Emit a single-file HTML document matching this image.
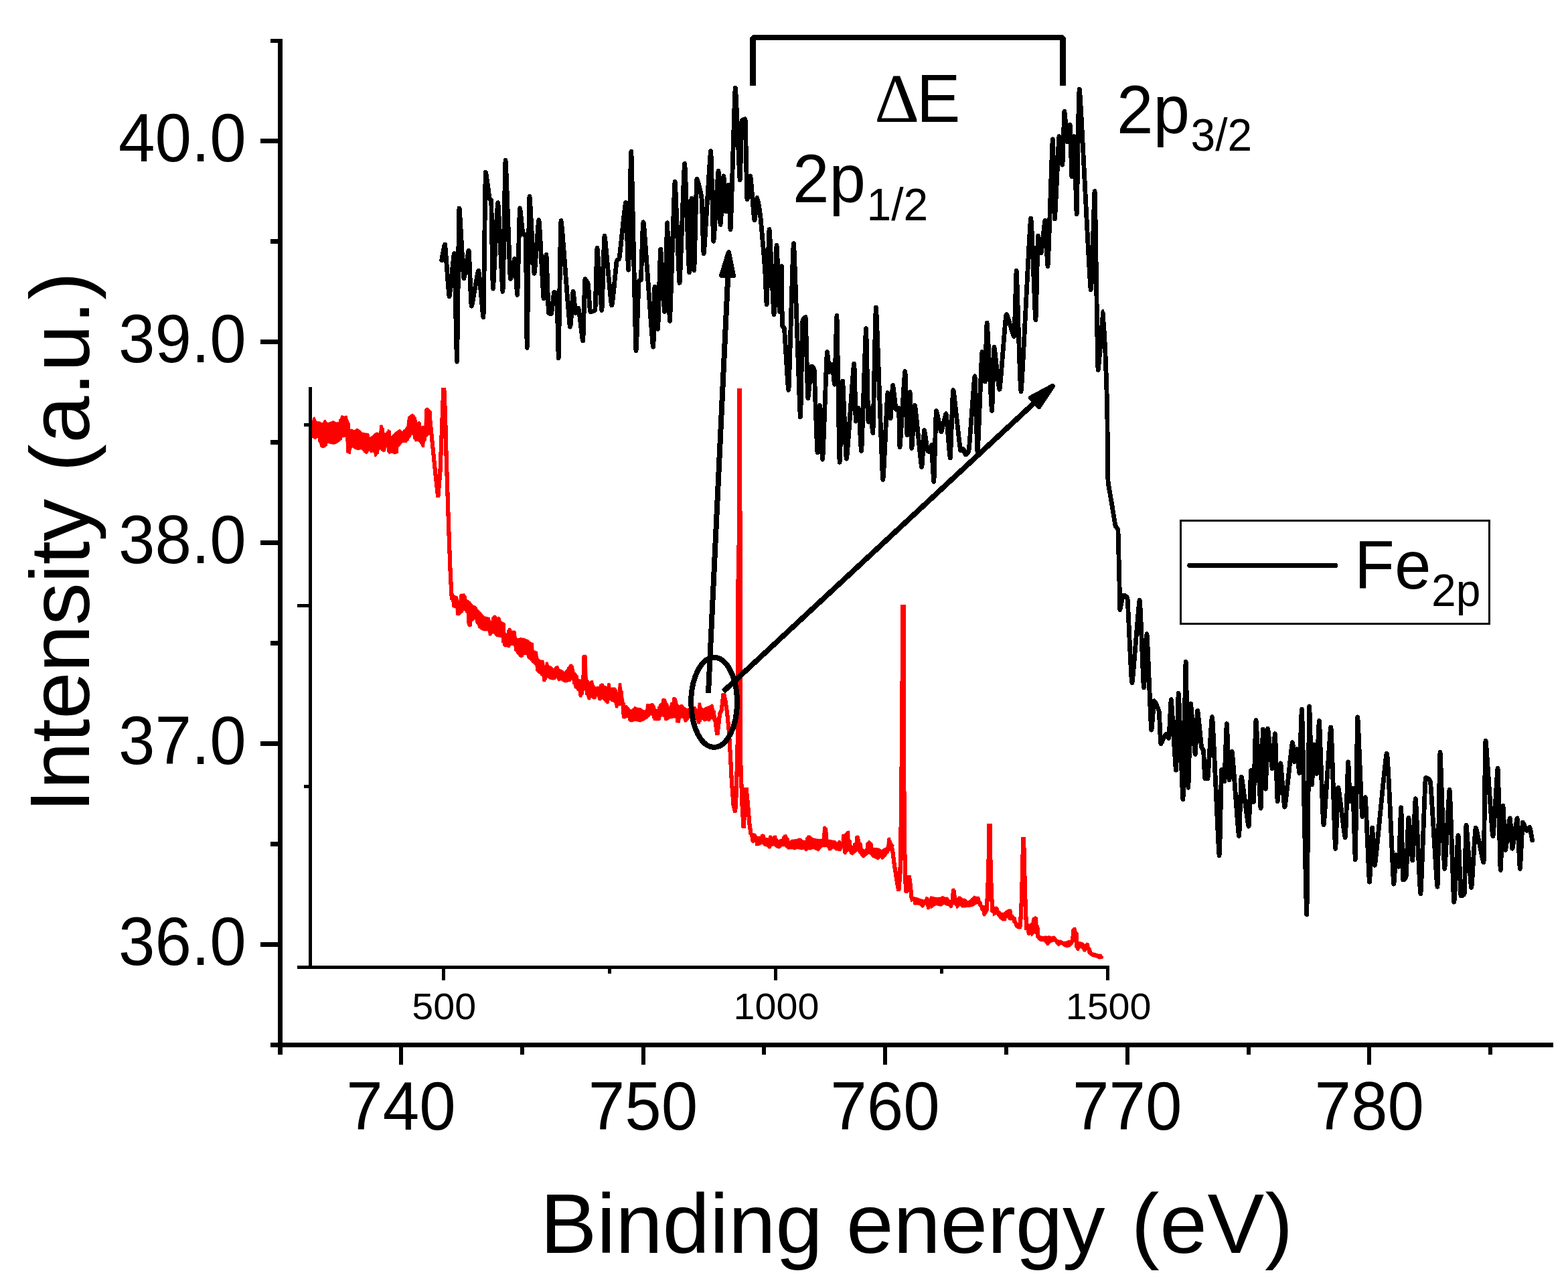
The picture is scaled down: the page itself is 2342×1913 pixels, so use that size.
<!DOCTYPE html>
<html lang="en"><head><meta charset="utf-8"><title>Fe 2p XPS spectrum</title>
<style>
html,body{margin:0;padding:0;background:#fff;}
body{width:2342px;height:1913px;overflow:hidden;}
svg{display:block;}
text{font-family:"Liberation Sans",sans-serif;fill:#000;}
.ax{stroke:#000;stroke-width:7;fill:none;stroke-linecap:butt;}
.iax{stroke:#000;stroke-width:5;fill:none;stroke-linecap:butt;}
.tl{font-size:98px;}
.itl{font-size:57.5px;}
.lab{font-size:127px;}
</style></head><body>
<svg width="2342" height="1913" viewBox="0 0 2342 1913" shape-rendering="crispEdges" role="img" aria-label="XPS Fe 2p spectrum with survey inset">
<rect width="2342" height="1913" fill="#fff"/>
<path id="redband" d="M466.0 628.4 L466.0 628.4 L469.7 622.2 L472.8 629.5 L478.0 629.5 L481.1 632.6 L485.3 626.8 L489.4 631.5 L492.5 630.5 L497.7 628.4 L501.8 630.5 L506.0 630.5 L510.1 620.1 L514.3 621.8 L517.4 620.6 L520.5 628.4 L521.5 641.9 L525.7 640.5 L528.8 643.0 L533.0 639.8 L537.1 641.9 L541.2 646.1 L549.5 647.1 L551.6 653.3 L555.8 651.2 L559.9 647.1 L563.0 645.4 L566.1 647.1 L568.2 634.7 L571.3 634.7 L573.4 646.1 L577.5 647.1 L579.6 640.9 L582.7 643.0 L583.8 652.3 L591.0 645.0 L597.2 640.9 L600.4 645.0 L603.5 640.9 L606.6 643.0 L609.7 622.2 L615.9 617.7 L620.1 621.2 L622.1 631.5 L626.3 628.9 L629.4 636.7 L633.5 635.7 L635.6 609.8 L638.7 608.7 L642.9 612.9 L642.9 612.9 L642.9 647.1 L642.9 647.1 L638.7 651.2 L635.6 654.4 L633.5 667.8 L630.4 667.8 L627.3 660.6 L623.2 658.5 L620.1 659.5 L615.9 648.1 L611.8 654.4 L607.6 660.6 L601.4 660.6 L595.2 667.8 L593.1 677.2 L588.9 678.2 L584.8 676.1 L580.7 678.2 L577.5 665.8 L575.5 674.1 L572.4 675.1 L567.2 670.9 L564.1 678.2 L560.9 682.4 L557.8 675.1 L553.7 676.1 L551.6 673.0 L547.5 678.2 L544.4 676.1 L540.2 670.9 L535.0 672.0 L530.9 670.9 L525.7 667.8 L522.6 678.2 L518.4 676.1 L516.4 652.3 L511.2 653.3 L509.1 657.5 L503.9 661.6 L498.7 663.7 L493.6 662.7 L489.4 661.6 L486.3 667.8 L482.1 668.9 L479.0 667.8 L474.9 653.3 L470.7 655.8 L466.0 653.3 L466.0 653.3Z M675.6 888.4 L675.6 888.4 L678.1 888.4 L683.3 891.0 L685.9 898.8 L686.8 887.5 L693.7 886.3 L697.2 895.3 L701.5 897.9 L706.7 903.9 L710.1 904.8 L713.6 910.0 L718.8 915.2 L723.1 920.4 L730.8 922.1 L733.4 928.1 L736.9 919.5 L739.5 918.6 L742.1 922.1 L745.5 920.9 L749.0 928.1 L753.3 929.9 L754.2 943.7 L757.6 947.1 L759.4 938.5 L762.0 937.6 L764.5 942.0 L768.9 941.6 L772.3 954.0 L777.5 952.3 L782.7 953.2 L789.6 955.8 L792.2 959.2 L796.5 960.1 L797.4 971.3 L802.6 973.1 L804.3 985.2 L812.1 986.0 L813.8 995.5 L815.5 988.6 L818.1 988.6 L819.8 993.8 L824.2 995.5 L826.8 999.0 L830.2 994.7 L833.7 994.3 L835.4 999.0 L839.7 1000.7 L843.2 1003.3 L847.5 998.1 L850.9 992.1 L854.4 991.7 L857.0 997.2 L858.7 1005.0 L861.3 1005.9 L863.0 1012.8 L865.6 1014.5 L870.0 1014.5 L871.2 978.2 L875.7 978.2 L877.7 1014.5 L879.5 1020.6 L882.0 1016.6 L885.5 1016.3 L888.1 1025.8 L895.0 1025.2 L897.6 1020.6 L900.2 1020.6 L901.9 1023.2 L904.5 1024.6 L907.1 1025.8 L907.5 1020.6 L910.6 1020.2 L912.3 1026.6 L919.2 1026.6 L920.9 1033.5 L923.0 1033.5 L923.9 1020.6 L927.8 1020.2 L929.6 1035.3 L931.3 1042.2 L933.0 1053.4 L936.5 1053.4 L939.9 1057.7 L940.0 1058.5 L943.5 1060.2 L947.8 1055.0 L952.1 1056.8 L957.3 1057.6 L960.7 1060.2 L964.2 1061.1 L965.6 1051.1 L971.1 1051.6 L972.8 1050.2 L976.3 1050.7 L978.9 1057.6 L982.3 1060.2 L984.6 1051.6 L987.5 1049.9 L990.1 1042.9 L994.4 1043.8 L997.0 1051.6 L999.6 1055.9 L1002.2 1049.0 L1004.8 1048.1 L1006.0 1041.2 L1009.1 1041.6 L1011.7 1048.1 L1014.3 1058.5 L1016.0 1052.4 L1019.5 1052.4 L1022.1 1055.9 L1026.4 1058.5 L1029.9 1056.8 L1038.5 1055.0 L1042.0 1060.2 L1042.8 1049.5 L1046.8 1049.5 L1048.5 1059.4 L1052.3 1056.8 L1057.5 1054.7 L1061.0 1053.3 L1063.6 1051.2 L1066.1 1056.8 L1068.7 1067.1 L1068.7 1067.1 L1068.7 1084.4 L1068.7 1084.4 L1067.0 1081.0 L1064.4 1072.3 L1059.2 1077.5 L1055.8 1076.1 L1051.5 1077.5 L1048.0 1073.2 L1045.4 1081.0 L1042.0 1081.0 L1039.4 1074.0 L1029.0 1072.3 L1025.5 1078.4 L1022.1 1078.4 L1020.4 1072.3 L1016.9 1072.3 L1015.2 1079.6 L1010.5 1079.2 L1009.1 1072.3 L1005.7 1072.3 L1000.5 1073.2 L996.2 1076.1 L992.7 1075.8 L991.8 1070.6 L987.5 1069.7 L985.8 1075.8 L981.5 1076.1 L976.3 1075.8 L974.6 1068.9 L972.0 1068.0 L967.6 1072.3 L962.5 1075.8 L956.4 1078.4 L953.0 1077.5 L948.6 1076.6 L943.5 1078.4 L940.0 1077.5 L939.9 1072.4 L936.5 1071.6 L933.0 1073.3 L929.6 1072.4 L927.8 1053.4 L923.5 1054.3 L922.7 1057.4 L919.2 1056.9 L917.5 1047.4 L914.0 1048.2 L909.7 1044.8 L908.5 1050.8 L906.2 1051.2 L903.6 1047.4 L899.3 1043.9 L896.7 1046.5 L894.1 1045.6 L891.6 1038.7 L889.0 1043.9 L886.4 1044.3 L882.9 1041.3 L881.2 1045.3 L878.1 1044.8 L875.1 1035.3 L873.4 1030.1 L870.5 1034.4 L869.1 1041.3 L866.5 1041.3 L863.9 1032.7 L861.3 1029.2 L857.9 1027.5 L856.1 1018.0 L853.5 1015.4 L851.8 1018.0 L849.2 1018.0 L846.6 1018.8 L843.2 1019.2 L838.0 1015.9 L834.5 1017.1 L831.1 1011.9 L829.3 1014.9 L825.9 1015.4 L820.7 1014.2 L816.4 1011.1 L814.7 1018.0 L811.2 1018.0 L810.3 1011.1 L806.9 1006.8 L802.6 1004.2 L799.1 992.9 L795.6 990.3 L792.2 986.0 L788.7 983.4 L786.1 977.4 L781.8 978.2 L780.1 981.7 L777.5 982.0 L773.2 977.4 L769.7 972.2 L767.1 963.6 L762.8 963.6 L760.2 967.5 L757.6 966.1 L754.2 966.1 L751.6 964.4 L749.9 952.3 L746.4 951.5 L741.2 950.6 L736.0 944.5 L733.4 949.7 L730.0 948.9 L729.1 942.0 L723.9 942.3 L719.6 941.1 L715.3 937.6 L711.8 930.7 L709.2 924.7 L704.9 928.1 L703.2 935.9 L699.7 935.9 L698.9 926.4 L697.2 916.9 L694.6 910.0 L690.2 915.2 L685.9 919.1 L681.6 918.6 L680.7 908.3 L677.3 907.4 L675.6 906.5 L675.6 906.5Z M1122.0 1244.2 L1122.0 1244.2 L1128.0 1244.7 L1131.5 1249.4 L1135.8 1248.8 L1138.4 1245.4 L1141.0 1245.9 L1143.6 1251.1 L1147.9 1251.6 L1148.8 1247.6 L1152.2 1247.6 L1153.1 1250.2 L1156.5 1247.6 L1160.0 1248.0 L1160.8 1255.4 L1164.3 1253.7 L1169.5 1252.0 L1170.4 1246.8 L1174.7 1246.4 L1176.4 1250.2 L1179.0 1256.3 L1183.3 1253.7 L1192.0 1253.3 L1192.8 1251.6 L1196.3 1252.0 L1198.9 1254.5 L1203.2 1255.4 L1206.1 1247.6 L1210.1 1247.6 L1212.7 1250.6 L1216.1 1252.0 L1221.3 1252.8 L1223.9 1253.3 L1228.2 1252.8 L1229.6 1234.7 L1232.6 1233.5 L1236.0 1238.1 L1236.9 1253.7 L1242.1 1254.5 L1247.2 1255.4 L1250.7 1258.0 L1252.4 1255.1 L1255.0 1255.1 L1256.8 1258.0 L1257.6 1245.9 L1261.9 1245.6 L1264.5 1241.6 L1268.8 1240.7 L1269.7 1257.1 L1272.3 1262.3 L1274.9 1264.0 L1275.8 1258.9 L1278.4 1258.0 L1278.7 1248.2 L1282.2 1247.6 L1284.4 1257.1 L1287.0 1258.9 L1288.7 1267.5 L1293.0 1269.2 L1294.8 1258.0 L1298.2 1255.1 L1302.5 1258.9 L1303.9 1266.1 L1312.9 1266.6 L1316.4 1269.2 L1319.8 1267.5 L1324.1 1264.9 L1325.9 1252.0 L1329.3 1250.2 L1331.1 1257.1 L1333.6 1260.6 L1333.6 1260.6 L1333.6 1274.4 L1333.6 1274.4 L1330.2 1269.2 L1326.7 1273.6 L1323.3 1278.7 L1319.8 1282.2 L1317.2 1283.9 L1314.6 1278.7 L1312.0 1284.4 L1307.7 1282.2 L1303.4 1280.5 L1300.0 1276.1 L1297.4 1275.3 L1293.9 1277.9 L1291.3 1280.5 L1288.7 1281.3 L1286.1 1277.9 L1283.5 1274.4 L1280.9 1271.0 L1277.5 1273.6 L1273.2 1277.0 L1269.7 1275.3 L1268.0 1271.0 L1265.4 1271.0 L1263.7 1276.1 L1260.2 1275.3 L1258.5 1265.8 L1255.9 1271.0 L1249.0 1270.1 L1243.8 1266.6 L1241.2 1270.1 L1237.7 1270.1 L1235.2 1264.0 L1232.6 1264.9 L1228.2 1264.9 L1225.6 1267.5 L1222.2 1271.3 L1218.7 1269.2 L1214.4 1267.5 L1211.0 1269.2 L1207.5 1268.9 L1204.0 1271.3 L1200.6 1268.4 L1197.1 1268.9 L1190.2 1267.5 L1186.8 1269.2 L1183.3 1267.9 L1176.4 1268.4 L1172.9 1264.0 L1167.8 1264.0 L1164.3 1267.5 L1159.1 1265.8 L1156.5 1263.2 L1152.2 1263.7 L1151.3 1267.2 L1147.9 1267.2 L1145.3 1264.0 L1141.0 1263.2 L1138.4 1259.7 L1134.9 1262.3 L1129.7 1263.2 L1128.0 1257.1 L1124.6 1259.2 L1122.0 1257.1 L1122.0 1257.1Z M1364.8 1339.2 L1364.8 1339.2 L1371.7 1340.9 L1371.7 1341.6 L1375.2 1342.4 L1376.8 1342.7 L1380.4 1344.2 L1382.0 1341.8 L1382.1 1339.8 L1383.8 1339.2 L1385.6 1339.8 L1387.2 1340.9 L1387.3 1343.3 L1389.9 1338.6 L1390.0 1338.4 L1394.2 1339.3 L1399.4 1340.4 L1404.6 1339.8 L1408.0 1338.1 L1411.5 1339.8 L1415.8 1339.8 L1417.5 1344.2 L1420.5 1343.3 L1421.5 1327.7 L1425.3 1326.5 L1427.4 1332.1 L1428.8 1342.4 L1431.3 1338.6 L1434.8 1338.6 L1437.4 1342.4 L1440.8 1341.6 L1446.0 1345.9 L1450.4 1342.4 L1454.7 1337.6 L1458.1 1339.0 L1462.4 1339.0 L1464.7 1345.9 L1466.8 1351.1 L1470.2 1352.8 L1472.8 1351.1 L1472.8 1351.1 L1472.8 1365.3 L1472.0 1367.5 L1469.4 1368.4 L1466.8 1361.4 L1464.2 1356.3 L1461.6 1350.2 L1458.1 1350.2 L1454.7 1352.8 L1449.5 1354.5 L1444.3 1354.5 L1440.8 1355.4 L1436.5 1355.4 L1433.1 1351.9 L1430.5 1356.3 L1428.8 1357.1 L1427.0 1351.1 L1423.6 1351.1 L1421.8 1355.4 L1419.2 1356.3 L1417.5 1352.8 L1414.1 1352.5 L1409.7 1350.2 L1406.3 1353.7 L1402.8 1352.8 L1398.5 1351.9 L1395.1 1353.7 L1390.0 1357.4 L1389.9 1351.9 L1388.1 1358.0 L1385.6 1358.0 L1385.5 1358.2 L1383.8 1351.1 L1382.0 1351.3 L1381.2 1350.2 L1379.5 1354.5 L1377.7 1355.6 L1376.9 1355.4 L1375.1 1352.2 L1374.3 1351.9 L1371.7 1351.4 L1369.9 1351.3 L1364.8 1351.3 L1364.8 1351.3Z M1483.2 1354.5 L1483.2 1354.5 L1489.2 1353.7 L1491.8 1358.8 L1494.4 1362.3 L1498.7 1363.2 L1503.1 1359.7 L1506.5 1357.6 L1510.3 1357.6 L1512.0 1365.8 L1516.9 1370.1 L1518.6 1377.0 L1521.2 1378.7 L1524.1 1375.3 L1524.1 1375.3 L1524.1 1387.4 L1524.1 1387.4 L1521.2 1387.4 L1516.9 1384.8 L1514.3 1378.7 L1512.6 1374.4 L1508.2 1374.4 L1503.9 1370.1 L1502.2 1375.3 L1497.9 1375.3 L1492.7 1371.8 L1489.2 1365.2 L1485.8 1366.6 L1483.2 1368.4 L1483.2 1368.4Z M1534.2 1383.9 L1534.2 1383.9 L1535.9 1379.6 L1538.5 1379.6 L1540.2 1380.4 L1541.9 1370.9 L1546.3 1368.4 L1549.7 1370.1 L1551.1 1394.3 L1554.0 1397.7 L1559.2 1398.6 L1560.9 1397.4 L1564.4 1398.1 L1567.0 1397.4 L1570.4 1398.6 L1574.8 1397.7 L1578.2 1401.2 L1580.0 1403.8 L1585.1 1403.8 L1587.7 1406.4 L1592.9 1405.5 L1596.4 1404.3 L1599.8 1404.6 L1602.4 1385.6 L1606.7 1384.8 L1608.8 1392.5 L1610.2 1406.4 L1613.6 1406.4 L1618.0 1407.8 L1620.6 1411.6 L1622.6 1407.8 L1625.7 1408.4 L1628.3 1415.9 L1630.1 1421.9 L1634.4 1422.8 L1639.6 1424.5 L1644.8 1425.0 L1646.0 1428.0 L1646.0 1428.0 L1646.0 1431.4 L1646.0 1431.4 L1642.2 1432.3 L1636.1 1429.7 L1630.9 1428.5 L1626.6 1425.4 L1624.0 1417.6 L1621.4 1421.6 L1618.0 1421.1 L1616.2 1415.9 L1613.6 1415.9 L1610.2 1420.2 L1607.6 1418.5 L1605.0 1404.6 L1602.4 1409.8 L1598.1 1414.1 L1592.9 1415.0 L1588.6 1413.3 L1585.1 1409.8 L1581.7 1413.3 L1578.2 1410.7 L1576.5 1406.4 L1573.0 1406.4 L1568.7 1408.1 L1566.1 1411.6 L1563.5 1411.6 L1560.1 1406.4 L1556.6 1405.5 L1553.2 1405.5 L1548.8 1401.2 L1547.1 1394.3 L1543.7 1394.3 L1541.1 1398.6 L1539.3 1395.7 L1536.8 1396.9 L1534.2 1396.0 L1534.2 1396.0Z" fill="#ff0000" stroke="#ff0000" stroke-width="0.6" stroke-linejoin="round"/>
<path id="red" d="M466.0 630.4 L467.6 652.2 L469.2 625.1 L470.8 653.8 L472.4 630.5 L474.0 651.8 L475.6 631.5 L477.2 659.5 L478.8 632.3 L480.4 666.3 L482.1 633.3 L483.7 666.5 L485.3 628.8 L486.9 664.7 L488.5 632.5 L490.1 659.8 L491.7 632.8 L493.3 660.6 L494.9 631.5 L496.5 661.2 L498.1 630.7 L499.7 661.3 L501.3 632.3 L503.0 660.0 L504.6 632.5 L506.2 657.8 L507.8 628.0 L509.4 654.9 L511.0 622.5 L512.6 651.0 L514.2 623.8 L515.8 650.4 L517.4 622.6 L519.0 674.4 L520.6 632.2 L522.3 676.0 L523.9 643.1 L525.5 666.6 L527.1 643.6 L528.7 667.6 L530.3 643.8 L531.9 669.2 L533.5 642.1 L535.1 670.0 L536.7 643.7 L538.3 669.3 L539.9 646.8 L541.6 670.6 L543.2 648.3 L544.8 674.4 L546.4 648.7 L548.0 675.6 L549.6 649.2 L551.2 671.5 L552.8 654.7 L554.4 674.0 L556.0 653.0 L557.6 673.1 L559.2 649.8 L560.8 680.1 L562.5 647.7 L564.1 676.2 L565.7 648.9 L567.3 669.0 L568.9 636.7 L570.5 671.6 L572.1 641.0 L573.7 672.6 L575.3 648.5 L576.9 666.2 L578.5 646.1 L580.1 674.2 L581.8 644.3 L583.4 674.9 L585.0 653.1 L586.6 675.0 L588.2 649.9 L589.8 676.0 L591.4 646.8 L593.0 675.2 L594.6 644.6 L596.2 664.6 L597.8 643.7 L599.4 660.8 L601.1 646.1 L602.7 658.6 L604.3 643.4 L605.9 658.6 L607.5 638.9 L609.1 656.4 L610.7 623.5 L612.3 651.5 L613.9 621.1 L615.5 646.7 L617.1 620.7 L618.7 653.9 L620.4 624.7 L622.0 656.9 L623.6 632.6 L625.2 657.5 L626.8 632.1 L628.4 661.1 L630.0 638.6 L631.6 665.8 L633.2 637.8 L634.8 657.4 L636.4 611.5 L638.0 649.9 L639.6 611.7 L641.3 646.7 L642.9 614.9 M675.6 890.4 L677.2 905.3 L678.8 890.7 L680.4 906.2 L682.0 892.3 L683.6 916.9 L685.2 898.5 L686.8 916.3 L688.4 889.2 L690.0 913.4 L691.6 888.7 L693.2 909.6 L694.8 891.2 L696.4 912.9 L698.0 897.8 L699.6 932.6 L701.2 899.7 L702.8 933.9 L704.4 903.3 L706.0 925.2 L707.6 906.2 L709.3 922.7 L710.9 907.9 L712.5 930.0 L714.1 912.5 L715.7 935.9 L717.3 915.7 L718.9 938.5 L720.5 919.3 L722.1 939.8 L723.7 922.5 L725.3 940.2 L726.9 923.2 L728.5 940.0 L730.1 923.9 L731.7 947.3 L733.3 929.9 L734.9 944.7 L736.5 922.4 L738.1 945.0 L739.7 921.0 L741.4 948.6 L743.0 923.8 L744.6 949.1 L746.2 924.2 L747.8 949.8 L749.4 930.3 L751.0 958.2 L752.6 931.6 L754.2 964.1 L755.8 947.3 L757.4 964.1 L759.0 942.3 L760.6 964.9 L762.2 940.1 L763.8 961.6 L765.4 943.9 L767.0 961.6 L768.6 943.6 L770.2 971.0 L771.8 954.3 L773.4 975.7 L775.1 955.1 L776.7 979.1 L778.3 954.4 L779.9 979.7 L781.5 955.0 L783.1 976.0 L784.7 955.9 L786.3 975.7 L787.9 957.1 L789.5 982.0 L791.1 959.8 L792.7 984.7 L794.3 961.7 L795.9 988.5 L797.5 973.4 L799.1 991.0 L800.7 974.4 L802.3 1001.4 L803.9 984.7 L805.5 1004.0 L807.1 987.5 L808.8 1007.1 L810.4 987.8 L812.0 1016.0 L813.6 996.3 L815.2 1013.9 L816.8 990.6 L818.4 1010.5 L820.0 995.9 L821.6 1012.4 L823.2 997.1 L824.8 1013.1 L826.4 1000.5 L828.0 1013.1 L829.6 997.4 L831.2 1010.2 L832.8 996.4 L834.4 1015.0 L836.0 1001.2 L837.6 1014.0 L839.2 1002.5 L840.9 1015.7 L842.5 1004.8 L844.1 1017.1 L845.7 1002.3 L847.3 1016.6 L848.9 997.7 L850.5 1016.0 L852.1 994.0 L853.7 1013.5 L855.3 995.6 L856.9 1020.2 L858.5 1006.0 L860.1 1026.6 L861.7 1009.5 L863.3 1029.9 L864.9 1016.1 L866.5 1039.3 L868.1 1016.5 L869.7 1036.1 L871.3 980.2 L872.9 1028.8 L874.6 980.2 L876.2 1036.6 L877.8 1016.6 L879.4 1043.0 L881.0 1020.3 L882.6 1040.1 L884.2 1018.4 L885.8 1041.8 L887.4 1025.2 L889.0 1041.8 L890.6 1027.6 L892.2 1038.5 L893.8 1027.3 L895.4 1044.1 L897.0 1023.6 L898.6 1042.6 L900.2 1022.6 L901.8 1043.9 L903.4 1026.0 L905.0 1047.4 L906.6 1027.5 L908.3 1048.9 L909.9 1022.3 L911.5 1044.2 L913.1 1028.6 L914.7 1046.1 L916.3 1028.6 L917.9 1047.6 L919.5 1029.8 L921.1 1055.1 L922.7 1035.5 L924.3 1052.1 L925.9 1022.4 L927.5 1051.5 L929.1 1033.3 L930.7 1070.7 L932.3 1050.9 L933.9 1070.8 L935.5 1055.4 L937.1 1069.7 L938.7 1058.2 L940.3 1075.6 L942.0 1061.5 L943.6 1076.3 L945.2 1060.2 L946.8 1075.3 L948.4 1057.3 L950.0 1074.9 L951.6 1058.6 L953.2 1075.6 L954.8 1059.2 L956.4 1076.4 L958.0 1060.2 L959.6 1075.0 L961.2 1062.3 L962.8 1073.5 L964.4 1061.4 L966.0 1071.4 L967.6 1053.3 L969.2 1068.7 L970.8 1053.6 L972.4 1066.2 L974.1 1052.4 L975.7 1071.2 L977.3 1055.3 L978.9 1073.9 L980.5 1060.8 L982.1 1074.1 L983.7 1057.1 L985.3 1073.8 L986.9 1052.2 L988.5 1067.9 L990.1 1045.0 L991.7 1068.6 L993.3 1045.6 L994.9 1074.0 L996.5 1052.1 L998.1 1072.8 L999.7 1057.6 L1001.3 1071.0 L1002.9 1050.7 L1004.5 1070.5 L1006.1 1043.2 L1007.8 1070.3 L1009.4 1044.2 L1011.0 1077.3 L1012.6 1053.5 L1014.2 1077.5 L1015.8 1055.3 L1017.4 1070.3 L1019.0 1054.4 L1020.6 1071.2 L1022.2 1058.0 L1023.8 1076.4 L1025.4 1059.9 L1027.0 1073.8 L1028.6 1059.4 L1030.2 1070.5 L1031.8 1058.4 L1033.4 1071.1 L1035.0 1057.7 L1036.6 1071.6 L1038.2 1057.1 L1039.8 1073.4 L1041.5 1061.5 L1043.1 1079.0 L1044.7 1051.5 L1046.3 1076.4 L1047.9 1057.7 L1049.5 1073.0 L1051.1 1059.6 L1052.7 1075.1 L1054.3 1058.0 L1055.9 1074.2 L1057.5 1056.7 L1059.1 1075.5 L1060.7 1055.4 L1062.3 1072.4 L1063.9 1054.0 L1065.5 1074.0 L1067.1 1062.7 L1068.7 1082.4 M1122.0 1246.2 L1123.6 1256.4 L1125.2 1246.5 L1126.8 1255.9 L1128.4 1247.2 L1130.0 1261.1 L1131.6 1251.3 L1133.2 1260.6 L1134.8 1251.0 L1136.4 1259.2 L1138.0 1247.9 L1139.6 1259.4 L1141.2 1248.4 L1142.8 1261.6 L1144.4 1253.2 L1146.0 1262.9 L1147.6 1253.6 L1149.2 1265.2 L1150.8 1249.6 L1152.4 1261.7 L1154.0 1251.5 L1155.6 1261.3 L1157.2 1249.7 L1158.9 1263.5 L1160.5 1254.0 L1162.1 1264.8 L1163.7 1256.0 L1165.3 1264.5 L1166.9 1254.8 L1168.5 1262.0 L1170.1 1250.4 L1171.7 1262.0 L1173.3 1248.5 L1174.9 1264.5 L1176.5 1252.4 L1178.1 1266.2 L1179.7 1257.8 L1181.3 1266.0 L1182.9 1255.9 L1184.5 1266.3 L1186.1 1255.6 L1187.7 1266.8 L1189.3 1255.4 L1190.9 1265.6 L1192.5 1254.2 L1194.1 1266.3 L1195.7 1253.9 L1197.3 1266.9 L1198.9 1256.6 L1200.5 1266.4 L1202.2 1257.2 L1203.8 1269.1 L1205.4 1251.7 L1207.0 1267.3 L1208.6 1249.6 L1210.2 1267.2 L1211.8 1251.5 L1213.4 1266.0 L1215.0 1253.5 L1216.6 1266.4 L1218.2 1254.3 L1219.8 1267.9 L1221.4 1254.8 L1223.0 1268.4 L1224.6 1255.3 L1226.2 1264.9 L1227.8 1254.9 L1229.4 1262.9 L1231.0 1236.1 L1232.6 1262.9 L1234.2 1237.7 L1235.8 1263.6 L1237.4 1255.8 L1239.0 1268.1 L1240.6 1256.3 L1242.2 1266.7 L1243.8 1256.8 L1245.4 1265.7 L1247.1 1257.4 L1248.7 1267.9 L1250.3 1259.7 L1251.9 1268.5 L1253.5 1257.1 L1255.1 1268.9 L1256.7 1259.9 L1258.3 1264.2 L1259.9 1247.7 L1261.5 1273.6 L1263.1 1245.8 L1264.7 1271.1 L1266.3 1243.2 L1267.9 1269.0 L1269.5 1255.2 L1271.1 1274.0 L1272.7 1264.6 L1274.3 1274.1 L1275.9 1260.8 L1277.5 1271.5 L1279.1 1250.1 L1280.7 1269.1 L1282.3 1250.4 L1283.9 1272.9 L1285.5 1259.9 L1287.1 1277.2 L1288.7 1269.5 L1290.4 1278.8 L1292.0 1270.8 L1293.6 1276.2 L1295.2 1259.7 L1296.8 1273.7 L1298.4 1257.2 L1300.0 1274.2 L1301.6 1260.0 L1303.2 1278.2 L1304.8 1268.2 L1306.4 1279.7 L1308.0 1268.4 L1309.6 1281.2 L1311.2 1268.5 L1312.8 1280.8 L1314.4 1269.8 L1316.0 1279.5 L1317.6 1270.6 L1319.2 1280.6 L1320.8 1268.9 L1322.4 1277.6 L1324.0 1267.0 L1325.6 1273.2 L1327.2 1253.3 L1328.8 1268.9 L1330.4 1256.7 L1332.0 1270.0 L1333.6 1262.6 M1364.8 1341.2 L1366.4 1349.3 L1368.0 1342.0 L1369.6 1349.3 L1371.2 1342.8 L1372.8 1349.6 L1374.4 1344.2 L1376.0 1351.8 L1377.7 1345.0 L1379.3 1352.7 L1380.9 1345.4 L1382.5 1349.3 L1384.1 1341.3 L1385.7 1356.0 L1387.3 1345.2 L1388.9 1353.2 L1390.6 1340.5 L1392.2 1353.8 L1393.8 1341.2 L1395.4 1351.5 L1397.0 1341.9 L1398.6 1350.0 L1400.2 1342.3 L1401.8 1350.6 L1403.5 1342.0 L1405.1 1351.4 L1406.7 1340.8 L1408.3 1349.7 L1409.9 1341.1 L1411.5 1349.1 L1413.1 1341.8 L1414.8 1350.5 L1416.4 1343.3 L1418.0 1351.7 L1419.6 1345.6 L1421.2 1353.6 L1422.8 1329.3 L1424.4 1349.1 L1426.0 1330.5 L1427.7 1351.3 L1429.3 1343.7 L1430.9 1353.6 L1432.5 1340.6 L1434.1 1351.0 L1435.7 1342.0 L1437.3 1353.4 L1438.9 1344.0 L1440.6 1353.4 L1442.2 1344.7 L1443.8 1352.7 L1445.4 1347.4 L1447.0 1352.5 L1448.6 1345.8 L1450.2 1352.3 L1451.8 1342.8 L1453.5 1351.2 L1455.1 1339.8 L1456.7 1349.3 L1458.3 1341.0 L1459.9 1348.2 L1461.5 1341.0 L1463.1 1351.8 L1464.8 1348.0 L1466.4 1358.6 L1468.0 1353.7 L1469.6 1366.3 L1471.2 1354.1 L1472.8 1363.3 M1483.2 1356.5 L1484.8 1365.3 L1486.5 1356.1 L1488.1 1363.7 L1489.7 1356.7 L1491.4 1367.3 L1493.0 1362.4 L1494.7 1371.1 L1496.3 1364.7 L1497.9 1373.3 L1499.6 1364.5 L1501.2 1373.3 L1502.8 1361.9 L1504.5 1368.6 L1506.1 1359.9 L1507.8 1371.9 L1509.4 1359.6 L1511.0 1372.4 L1512.7 1368.3 L1514.3 1376.8 L1515.9 1371.2 L1517.6 1383.2 L1519.2 1379.4 L1520.9 1385.2 L1522.5 1379.2 L1524.1 1385.4 M1534.2 1385.9 L1535.8 1394.5 L1537.4 1381.6 L1539.0 1393.8 L1540.6 1380.1 L1542.3 1394.6 L1543.9 1371.8 L1545.5 1392.3 L1547.1 1370.8 L1548.7 1398.8 L1550.4 1383.5 L1552.0 1402.3 L1553.6 1399.2 L1555.2 1403.5 L1556.8 1400.2 L1558.5 1404.0 L1560.1 1400.0 L1561.7 1406.8 L1563.3 1399.9 L1564.9 1409.6 L1566.6 1399.5 L1568.2 1406.8 L1569.8 1400.4 L1571.4 1405.0 L1573.0 1400.1 L1574.7 1404.4 L1576.3 1401.2 L1577.9 1407.9 L1579.5 1405.1 L1581.2 1410.9 L1582.8 1405.8 L1584.4 1408.6 L1586.0 1406.7 L1587.6 1410.3 L1589.3 1408.1 L1590.9 1412.2 L1592.5 1407.6 L1594.1 1412.8 L1595.7 1406.5 L1597.4 1412.3 L1599.0 1406.6 L1600.6 1409.6 L1602.2 1389.1 L1603.8 1405.0 L1605.5 1387.0 L1607.1 1413.7 L1608.7 1394.1 L1610.3 1418.0 L1611.9 1408.4 L1613.6 1414.0 L1615.2 1408.9 L1616.8 1415.5 L1618.4 1410.4 L1620.0 1419.4 L1621.7 1411.5 L1623.3 1416.7 L1624.9 1410.3 L1626.5 1423.1 L1628.1 1417.3 L1629.8 1425.6 L1631.4 1424.2 L1633.0 1427.0 L1634.6 1424.9 L1636.2 1427.8 L1637.9 1425.9 L1639.5 1429.1 L1641.1 1426.7 L1642.7 1430.2 L1644.3 1427.0 L1646.0 1429.7" fill="none" stroke="#ff0000" stroke-width="4" stroke-linejoin="round" stroke-linecap="round"/>
<path id="redpeaks" d="M641.8 622.2 L646.0 663.7 L650.1 705.2 L654.3 742.5 L657.4 705.2 L659.9 643.0 L662.2 582.4 L663.4 582.4 L665.1 622.2 L666.7 684.4 L668.8 746.6 L670.9 808.9 L672.9 860.7 L675.0 896.0 M1067.9 1072.3 L1069.6 1086.1 L1071.3 1097.4 L1073.4 1081.0 L1075.1 1065.4 L1077.7 1061.1 L1079.3 1046.4 L1080.8 1035.2 L1083.4 1046.4 L1086.0 1063.7 L1088.6 1089.6 L1090.7 1124.2 L1092.9 1167.4 L1095.5 1201.9 L1098.1 1213.2 L1099.8 1184.6 L1101.9 1100.0 L1102.4 866.0 L1103.6 864.0 L1103.7 583.0 L1105.3 583.0 L1105.6 1120.0 L1108.5 1201.9 L1110.7 1237.3 L1112.8 1201.9 L1114.5 1176.0 L1117.1 1201.9 L1119.7 1233.0 L1121.8 1246.8 M1332.8 1267.5 L1335.4 1288.2 L1338.0 1305.5 L1340.2 1319.3 L1342.3 1330.6 L1344.4 1305.5 L1345.4 1253.7 L1346.6 1150.0 L1346.9 1052.0 L1347.6 1050.0 L1347.7 906.0 L1349.5 906.0 L1350.1 1150.0 L1351.3 1271.0 L1352.3 1314.2 L1353.3 1333.2 L1355.6 1322.8 L1357.8 1307.2 L1359.9 1322.8 L1361.3 1340.1 L1363.4 1346.1 M1473.3 1361.4 L1475.1 1335.5 L1476.6 1283.7 L1477.5 1232.7 L1478.5 1232.7 L1479.4 1283.7 L1480.9 1335.5 L1482.7 1363.2 M1523.8 1383.9 L1525.5 1352.8 L1527.1 1301.0 L1528.1 1252.6 L1529.1 1252.6 L1530.2 1301.0 L1531.7 1352.8 L1533.3 1389.1" fill="none" stroke="#ff0000" stroke-width="6.2" stroke-linejoin="miter" stroke-miterlimit="2" stroke-linecap="butt"/>
<path id="black" d="M659.7 388.7C659.7 388.7 663.7 364.9 664.5 364.9C665.3 364.9 670.1 442.6 671.1 442.6C672.1 442.6 677.6 378.3 678.4 378.3C679.2 378.3 682.0 540.1 682.5 540.1C683.0 540.1 685.3 310.9 686.0 310.9C686.7 310.9 691.9 415.7 692.9 415.7C693.9 415.7 699.3 374.2 700.1 374.2C700.9 374.2 703.3 457.2 704.3 457.2C705.3 457.2 713.5 404.3 714.7 404.3C715.9 404.3 721.2 473.7 721.9 473.7C722.6 473.7 724.7 257.0 725.4 257.0C726.1 257.0 730.6 293.6 731.2 296.4C731.8 299.2 733.3 296.7 733.7 299.5C734.1 302.3 735.7 431.2 736.4 431.2C737.1 431.2 742.7 302.7 743.7 302.7C744.7 302.7 750.1 435.4 750.9 435.4C751.7 435.4 754.3 239.4 755.1 239.4C755.9 239.4 761.5 416.7 762.4 416.7C763.3 416.7 767.9 386.6 768.6 386.6C769.3 386.6 772.1 440.6 772.7 440.6C773.3 440.6 775.9 310.9 776.5 310.9C777.1 310.9 780.4 347.4 781.0 349.3C781.6 351.2 784.8 349.5 785.2 351.4C785.6 353.3 786.8 519.4 787.2 519.4C787.6 519.4 790.2 293.3 791.0 293.3C791.8 293.3 797.0 408.4 798.0 408.4C799.0 408.4 803.9 328.6 804.9 328.6C805.9 328.6 811.3 445.7 812.1 445.7C812.9 445.7 815.4 380.4 815.9 380.4C816.4 380.4 818.9 466.5 819.4 467.5C819.9 468.5 822.9 468.6 823.5 468.6C824.1 468.6 827.1 436.4 827.7 436.4C828.3 436.4 831.3 436.9 831.8 441.6C832.3 446.3 833.9 534.9 834.3 534.9C834.7 534.9 836.9 329.6 838.1 329.6C839.3 329.6 850.2 488.3 851.5 488.3C852.8 488.3 855.5 435.4 856.1 435.4C856.7 435.4 859.2 467.5 859.8 467.5C860.4 467.5 863.2 460.3 864.0 460.3C864.8 460.3 869.9 509.0 870.6 509.0C871.3 509.0 873.3 416.7 873.9 416.7C874.5 416.7 878.0 421.6 878.5 425.0C879.0 428.4 880.9 465.5 881.6 465.5C882.3 465.5 888.2 465.2 888.9 462.3C889.6 459.4 891.3 370.1 892.0 370.1C892.7 370.1 898.0 463.4 898.8 463.4C899.6 463.4 902.0 352.4 903.0 352.4C904.0 352.4 912.4 456.1 913.7 456.1C915.0 456.1 920.2 395.8 921.0 390.8C921.8 385.8 924.3 390.2 925.2 384.6C926.1 379.0 933.6 302.7 934.5 302.7C935.4 302.7 938.0 403.2 938.6 403.2C939.2 403.2 942.0 225.9 942.8 225.9C943.6 225.9 949.2 523.5 950.0 523.5C950.8 523.5 953.7 421.6 954.2 419.8C954.7 418.0 956.8 419.6 957.3 417.8C957.8 416.0 959.7 331.7 961.0 331.7C962.3 331.7 974.3 518.3 975.5 518.3C976.7 518.3 977.5 428.1 978.0 428.1C978.5 428.1 982.0 491.4 982.6 491.4C983.2 491.4 986.0 372.1 986.7 372.1C987.4 372.1 991.9 465.5 992.6 465.5C993.3 465.5 996.2 332.7 996.7 332.7C997.2 332.7 999.6 479.8 1000.4 479.8C1001.2 479.8 1007.1 271.1 1008.1 271.1C1009.1 271.1 1014.0 422.5 1015.0 422.5C1016.0 422.5 1021.6 244.1 1022.6 244.1C1023.6 244.1 1028.8 406.9 1029.5 406.9C1030.2 406.9 1032.5 296.0 1033.0 296.0C1033.5 296.0 1036.1 403.8 1036.7 403.8C1037.3 403.8 1040.1 266.9 1040.9 266.9C1041.7 266.9 1047.4 289.2 1048.1 297.0C1048.8 304.8 1050.3 378.9 1051.2 378.9C1052.1 378.9 1060.6 225.5 1061.6 225.5C1062.6 225.5 1065.0 360.3 1065.8 360.3C1066.6 360.3 1072.3 255.5 1073.0 255.5C1073.7 255.5 1075.5 335.4 1076.1 335.4C1076.7 335.4 1080.3 262.8 1080.9 262.8C1081.5 262.8 1083.5 315.7 1084.0 315.7C1084.5 315.7 1087.7 276.3 1088.2 276.3C1088.7 276.3 1090.4 342.6 1091.1 342.6C1091.8 342.6 1097.3 131.1 1098.3 131.1C1099.3 131.1 1104.5 269.0 1105.2 269.0C1105.9 269.0 1107.2 185.6 1107.7 181.9C1108.2 178.2 1112.4 177.8 1113.0 177.8C1113.6 177.8 1115.5 298.1 1116.0 298.1C1116.5 298.1 1119.9 262.8 1120.7 262.8C1121.5 262.8 1126.2 329.2 1126.9 329.2C1127.6 329.2 1130.4 294.9 1131.1 294.9C1131.8 294.9 1135.5 320.7 1136.3 328.1C1137.1 335.5 1141.9 391.8 1142.5 400.7C1143.1 409.6 1144.7 455.0 1145.2 455.0C1145.7 455.0 1148.3 342.6 1149.1 342.6C1149.9 342.6 1155.2 469.5 1156.0 469.5C1156.8 469.5 1159.5 366.5 1160.1 366.5C1160.7 366.5 1163.8 465.3 1164.3 465.3C1164.8 465.3 1167.1 397.6 1167.4 397.6C1167.7 397.6 1168.1 479.4 1168.4 485.0C1168.7 490.6 1170.8 485.6 1171.5 491.2C1172.2 496.8 1176.8 582.5 1177.8 582.5C1178.8 582.5 1184.2 363.4 1185.4 363.4C1186.6 363.4 1194.5 622.9 1195.4 622.9C1196.3 622.9 1198.0 491.5 1198.5 483.0C1199.0 474.5 1202.5 473.6 1203.1 473.6C1203.7 473.6 1206.2 594.9 1206.8 594.9C1207.4 594.9 1211.3 547.2 1212.0 547.2C1212.7 547.2 1215.5 547.7 1216.1 552.4C1216.7 557.1 1220.3 675.8 1220.9 675.8C1221.5 675.8 1223.9 605.3 1224.4 605.3C1224.9 605.3 1227.8 686.2 1228.6 686.2C1229.4 686.2 1234.7 525.5 1235.4 525.5C1236.1 525.5 1238.4 555.5 1238.9 555.5C1239.4 555.5 1242.6 544.1 1243.1 544.1C1243.6 544.1 1246.1 574.2 1246.6 574.2C1247.1 574.2 1249.4 471.5 1249.9 471.5C1250.4 471.5 1253.5 690.3 1254.1 690.3C1254.7 690.3 1257.9 569.0 1258.6 569.0C1259.3 569.0 1263.2 685.2 1264.4 685.2C1265.6 685.2 1274.6 543.1 1275.6 543.1C1276.6 543.1 1277.8 629.2 1278.3 629.2C1278.8 629.2 1281.9 609.5 1282.5 609.5C1283.1 609.5 1285.8 673.7 1286.6 673.7C1287.4 673.7 1292.8 490.2 1293.5 490.2C1294.2 490.2 1296.5 630.2 1297.0 630.2C1297.5 630.2 1299.6 609.5 1300.1 609.5C1300.6 609.5 1303.2 646.8 1303.8 646.8C1304.4 646.8 1307.4 459.1 1308.4 459.1C1309.5 459.1 1317.6 716.3 1318.8 716.3C1320.0 716.3 1325.1 586.6 1325.9 586.6C1326.7 586.6 1329.6 625.0 1330.1 625.0C1330.6 625.0 1333.0 575.2 1333.6 575.2C1334.2 575.2 1337.8 611.5 1338.4 611.5C1339.0 611.5 1342.1 609.5 1342.5 609.5C1342.9 609.5 1343.3 667.5 1344.0 667.5C1344.7 667.5 1351.0 554.5 1351.8 554.5C1352.6 554.5 1354.5 649.9 1355.0 649.9C1355.5 649.9 1358.6 585.6 1359.1 585.6C1359.6 585.6 1361.3 669.6 1361.8 669.6C1362.3 669.6 1365.4 605.3 1366.4 605.3C1367.4 605.3 1375.7 697.6 1376.7 697.6C1377.7 697.6 1379.9 642.6 1380.5 642.6C1381.1 642.6 1384.5 669.4 1385.0 671.7C1385.5 674.0 1387.7 674.8 1388.1 674.8C1388.5 674.8 1390.7 664.4 1391.2 664.4C1391.7 664.4 1394.3 719.4 1394.8 719.4C1395.3 719.4 1397.7 613.6 1398.5 613.6C1399.3 613.6 1404.8 644.7 1405.8 644.7C1406.8 644.7 1412.1 617.8 1413.0 617.8C1413.9 617.8 1418.4 684.1 1419.2 684.1C1420.0 684.1 1422.7 582.5 1423.8 582.5C1424.9 582.5 1433.7 672.7 1434.8 672.7C1435.9 672.7 1438.4 670.6 1438.9 670.6C1439.4 670.6 1441.5 678.9 1442.1 678.9C1442.7 678.9 1446.2 678.2 1447.2 671.7C1448.2 665.2 1455.1 561.8 1456.0 561.8C1456.9 561.8 1459.3 675.8 1460.1 675.8C1460.9 675.8 1466.1 525.5 1466.9 525.5C1467.7 525.5 1470.6 570.1 1471.1 570.1C1471.6 570.1 1473.5 481.9 1474.2 481.9C1474.9 481.9 1480.7 613.6 1481.5 613.6C1482.3 613.6 1484.2 518.2 1485.0 518.2C1485.8 518.2 1491.6 581.5 1492.9 581.5C1494.2 581.5 1501.7 469.5 1503.2 469.5C1504.7 469.5 1513.5 502.7 1514.6 502.7C1515.6 502.7 1517.5 404.1 1518.2 404.1C1518.9 404.1 1523.5 584.6 1525.0 584.6C1526.5 584.6 1538.2 326.0 1539.7 326.0C1541.2 326.0 1546.0 477.8 1546.8 477.8C1547.6 477.8 1549.9 352.0 1550.5 352.0C1551.1 352.0 1554.4 377.9 1555.1 377.9C1555.8 377.9 1560.2 329.2 1560.9 329.2C1561.6 329.2 1564.2 397.6 1565.0 397.6C1565.8 397.6 1571.6 207.8 1572.3 207.8C1573.0 207.8 1574.7 327.1 1575.4 327.1C1576.1 327.1 1581.2 203.7 1582.0 203.7C1582.8 203.7 1586.2 246.2 1586.8 246.2C1587.4 246.2 1589.4 166.4 1589.9 166.4C1590.4 166.4 1593.5 212.0 1594.1 212.0C1594.7 212.0 1597.7 186.1 1598.2 186.1C1598.7 186.1 1600.5 263.8 1600.9 263.8C1601.3 263.8 1603.9 203.7 1604.4 203.7C1604.9 203.7 1607.6 319.8 1608.2 319.8C1608.8 319.8 1610.8 133.2 1612.3 133.2C1613.8 133.2 1627.7 432.8 1629.3 432.8C1630.9 432.8 1634.3 285.6 1635.1 285.6C1635.9 285.6 1639.2 552.4 1640.1 552.4C1641.0 552.4 1647.1 465.3 1648.0 465.3C1648.9 465.3 1653.1 586.2 1653.5 600.0C1653.9 613.8 1654.2 653.9 1654.3 662.2C1654.4 670.5 1654.6 712.1 1655.0 718.2C1655.4 724.3 1659.3 744.7 1660.1 749.3C1660.9 753.9 1665.2 781.6 1665.9 784.6C1666.6 787.6 1669.6 788.8 1669.9 791.8C1670.2 794.8 1670.7 821.9 1670.9 828.1C1671.1 834.3 1672.1 874.2 1672.2 880.0C1672.3 885.8 1672.4 910.8 1672.8 910.8C1673.2 910.8 1676.9 889.0 1677.7 889.0C1678.5 889.0 1683.1 889.5 1684.0 894.2C1684.9 898.9 1689.5 1019.7 1690.8 1019.7C1692.1 1019.7 1701.0 896.3 1702.2 896.3C1703.4 896.3 1707.6 1026.9 1708.4 1026.9C1709.2 1026.9 1712.2 946.7 1713.0 946.7C1713.8 946.7 1719.0 1090.2 1719.8 1090.2C1720.6 1090.2 1723.2 1046.6 1724.0 1046.6C1724.8 1046.6 1730.5 1058.7 1731.2 1063.2C1731.9 1067.7 1733.2 1110.9 1733.9 1110.9C1734.6 1110.9 1740.4 1096.4 1741.2 1096.4C1742.0 1096.4 1745.2 1102.6 1745.8 1102.6C1746.4 1102.6 1748.6 1044.6 1749.3 1044.6C1750.0 1044.6 1755.7 1150.3 1756.5 1150.3C1757.3 1150.3 1759.6 1035.2 1760.3 1035.2C1761.0 1035.2 1766.1 1193.9 1766.9 1193.9C1767.7 1193.9 1770.5 988.2 1771.1 988.2C1771.7 988.2 1774.3 1176.3 1774.8 1176.3C1775.3 1176.3 1777.8 1050.8 1778.5 1050.8C1779.2 1050.8 1784.5 1126.5 1785.2 1126.5C1785.9 1126.5 1788.0 1061.2 1788.7 1061.2C1789.4 1061.2 1793.9 1110.9 1794.5 1115.1C1795.1 1119.3 1797.2 1118.0 1797.6 1121.3C1798.0 1124.6 1799.3 1162.8 1799.7 1162.8C1800.1 1162.8 1803.0 1162.8 1803.8 1162.8C1804.6 1162.8 1809.3 1070.5 1810.5 1070.5C1811.7 1070.5 1820.1 1277.8 1821.1 1277.8C1822.1 1277.8 1824.1 1149.2 1824.6 1149.2C1825.1 1149.2 1828.2 1166.8 1828.7 1166.8C1829.2 1166.8 1831.8 1080.7 1832.3 1080.7C1832.8 1080.7 1835.5 1164.7 1836.0 1164.7C1836.5 1164.7 1839.1 1122.2 1840.1 1122.2C1841.1 1122.2 1849.5 1248.7 1850.5 1248.7C1851.5 1248.7 1853.2 1160.2 1854.2 1160.2C1855.2 1160.2 1864.0 1234.2 1865.0 1234.2C1866.0 1234.2 1868.1 1150.6 1868.6 1150.6C1869.1 1150.6 1871.8 1197.9 1872.3 1197.9C1872.8 1197.9 1875.2 1075.6 1876.0 1075.6C1876.8 1075.6 1882.4 1207.2 1883.1 1207.2C1883.8 1207.2 1885.9 1089.0 1886.4 1089.0C1886.9 1089.0 1889.8 1178.2 1890.3 1178.2C1890.8 1178.2 1892.9 1088.0 1893.6 1088.0C1894.3 1088.0 1899.5 1148.1 1900.3 1148.1C1901.1 1148.1 1903.8 1095.7 1904.4 1095.7C1905.0 1095.7 1907.6 1196.9 1908.2 1196.9C1908.8 1196.9 1912.0 1139.8 1912.7 1139.8C1913.4 1139.8 1917.7 1205.2 1918.9 1205.2C1920.1 1205.2 1929.4 1108.7 1930.4 1108.7C1931.4 1108.7 1933.0 1137.8 1933.5 1137.8C1934.0 1137.8 1936.5 1118.7 1937.0 1118.7C1937.5 1118.7 1940.2 1154.4 1940.7 1154.4C1941.2 1154.4 1943.7 1059.0 1944.5 1059.0C1945.3 1059.0 1950.9 1365.9 1951.7 1365.9C1952.5 1365.9 1955.2 1054.8 1955.7 1054.8C1956.2 1054.8 1958.9 1172.0 1959.4 1172.0C1959.9 1172.0 1962.4 1111.8 1962.9 1111.8C1963.4 1111.8 1966.1 1155.4 1966.6 1155.4C1967.1 1155.4 1969.7 1076.2 1970.4 1076.2C1971.1 1076.2 1975.8 1232.1 1977.0 1232.1C1978.2 1232.1 1986.6 1085.9 1987.8 1085.9C1989.0 1085.9 1993.8 1267.4 1994.6 1267.4C1995.4 1267.4 1997.8 1176.1 1998.8 1176.1C1999.8 1176.1 2008.2 1250.8 2009.2 1250.8C2010.2 1250.8 2013.2 1137.8 2013.7 1137.8C2014.2 1137.8 2015.9 1196.9 2016.4 1196.9C2016.9 1196.9 2020.0 1177.2 2020.6 1177.2C2021.2 1177.2 2023.8 1284.0 2024.3 1284.0C2024.8 1284.0 2027.1 1070.8 2027.8 1070.8C2028.5 1070.8 2033.9 1219.7 2034.7 1219.7C2035.5 1219.7 2038.4 1190.7 2039.2 1190.7C2040.0 1190.7 2044.8 1317.2 2045.5 1317.2C2046.2 1317.2 2049.1 1235.9 2049.6 1235.9C2050.1 1235.9 2051.8 1292.3 2053.3 1292.3C2054.8 1292.3 2069.4 1124.9 2071.4 1124.9C2073.4 1124.9 2080.8 1320.3 2081.7 1320.3C2082.6 1320.3 2084.4 1276.7 2084.9 1276.7C2085.4 1276.7 2088.5 1294.3 2089.0 1294.3C2089.5 1294.3 2092.2 1205.8 2092.7 1205.8C2093.2 1205.8 2095.1 1314.0 2095.6 1314.0C2096.1 1314.0 2099.8 1313.3 2100.4 1306.8C2101.0 1300.3 2103.2 1221.1 2103.9 1221.1C2104.6 1221.1 2109.0 1285.0 2109.7 1285.0C2110.4 1285.0 2113.5 1192.7 2114.3 1192.7C2115.1 1192.7 2120.7 1334.8 2121.8 1334.8C2122.9 1334.8 2128.4 1161.6 2129.4 1161.6C2130.4 1161.6 2135.3 1162.2 2136.5 1167.8C2137.7 1173.4 2145.9 1324.4 2146.9 1324.4C2147.9 1324.4 2150.2 1123.3 2151.0 1123.3C2151.8 1123.3 2156.7 1297.5 2157.7 1297.5C2158.7 1297.5 2164.1 1179.2 2165.1 1179.2C2166.1 1179.2 2170.9 1347.2 2171.8 1347.2C2172.7 1347.2 2177.3 1247.7 2178.0 1247.7C2178.7 1247.7 2181.4 1337.9 2182.1 1337.9C2182.8 1337.9 2186.7 1337.5 2187.3 1333.7C2187.9 1329.9 2189.3 1232.1 2190.0 1232.1C2190.7 1232.1 2196.7 1325.5 2197.7 1325.5C2198.7 1325.5 2203.0 1236.3 2204.3 1236.3C2205.6 1236.3 2214.9 1288.1 2215.9 1288.1C2216.9 1288.1 2218.0 1106.0 2219.0 1106.0C2220.0 1106.0 2228.5 1248.7 2229.8 1248.7C2231.1 1248.7 2236.3 1147.1 2237.1 1147.1C2237.9 1147.1 2240.6 1299.5 2241.2 1299.5C2241.8 1299.5 2244.5 1203.1 2245.0 1203.1C2245.5 1203.1 2247.8 1269.5 2248.5 1269.5C2249.2 1269.5 2254.6 1221.8 2255.3 1221.8C2256.0 1221.8 2258.1 1267.4 2258.9 1267.4C2259.7 1267.4 2265.3 1221.8 2266.1 1221.8C2266.9 1221.8 2269.7 1297.5 2270.3 1297.5C2270.9 1297.5 2273.7 1228.0 2274.4 1228.0C2275.1 1228.0 2279.9 1240.4 2280.6 1240.4C2281.3 1240.4 2284.2 1235.2 2284.8 1235.2C2285.4 1235.2 2288.5 1254.9 2288.5 1254.9" fill="none" stroke="#000" stroke-width="6.8" stroke-linejoin="round" stroke-linecap="round"/>
<g class="ax">
<path d="M418.6 58 V1575"/>
<path d="M404 1560.6 H2320"/>
<path d="M389 210.5 H418.6"/><path d="M389 510.5 H418.6"/><path d="M389 810.5 H418.6"/><path d="M389 1110.5 H418.6"/><path d="M389 1410.5 H418.6"/><path d="M404 360.5 H418.6"/><path d="M404 660.5 H418.6"/><path d="M404 960.5 H418.6"/><path d="M404 1260.5 H418.6"/><path d="M404 60.95 H418.6" style="stroke-width:5.9"/><path d="M598.9 1560.6 V1590" style="stroke-width:6"/><path d="M960.5 1560.6 V1590" style="stroke-width:6"/><path d="M1322.1 1560.6 V1590" style="stroke-width:6"/><path d="M1683.7 1560.6 V1590" style="stroke-width:6"/><path d="M2045.3 1560.6 V1590" style="stroke-width:6"/><path d="M779.7 1560.6 V1575" style="stroke-width:6"/><path d="M1141.3 1560.6 V1575" style="stroke-width:6"/><path d="M1502.9 1560.6 V1575" style="stroke-width:6"/><path d="M1864.5 1560.6 V1575" style="stroke-width:6"/><path d="M2226.1 1560.6 V1575" style="stroke-width:6"/>
</g>
<g transform="translate(367.7 241.0) scale(1 1.035)"><text class="tl" text-anchor="end">40.0</text></g>
<g transform="translate(367.7 541.0) scale(1 1.035)"><text class="tl" text-anchor="end">39.0</text></g>
<g transform="translate(367.7 841.0) scale(1 1.035)"><text class="tl" text-anchor="end">38.0</text></g>
<g transform="translate(367.7 1141.0) scale(1 1.035)"><text class="tl" text-anchor="end">37.0</text></g>
<g transform="translate(367.7 1441.0) scale(1 1.035)"><text class="tl" text-anchor="end">36.0</text></g>
<g transform="translate(598.9 1687.0) scale(1 1.035)"><text class="tl" text-anchor="middle">740</text></g>
<g transform="translate(960.5 1687.0) scale(1 1.035)"><text class="tl" text-anchor="middle">750</text></g>
<g transform="translate(1322.1 1687.0) scale(1 1.035)"><text class="tl" text-anchor="middle">760</text></g>
<g transform="translate(1683.7 1687.0) scale(1 1.035)"><text class="tl" text-anchor="middle">770</text></g>
<g transform="translate(2045.3 1687.0) scale(1 1.035)"><text class="tl" text-anchor="middle">780</text></g>
<g class="iax">
<path d="M463.7 577.5 V1447"/>
<path d="M444 1444.6 H1657.2"/>
<path d="M454 634.6 H464" style="stroke-width:4.4"/><path d="M444 904.6 H464" style="stroke-width:4.6"/><path d="M454 1174.4 H464" style="stroke-width:4.4"/><path d="M662 1444.5 V1463.7"/><path d="M1158.3 1444.5 V1463.7"/><path d="M1654.6 1444.5 V1463.7"/><path d="M910 1444.5 V1453.6"/><path d="M1406.5 1444.5 V1453.6"/>
</g>
<g transform="translate(663.3 1522.0) scale(1 0.97)"><text class="itl" text-anchor="middle">500</text></g>
<g transform="translate(1159.5 1522.0) scale(1 0.97)"><text class="itl" text-anchor="middle">1000</text></g>
<g transform="translate(1655.6 1522.0) scale(1 0.97)"><text class="itl" text-anchor="middle">1500</text></g>
<defs><clipPath id="cx"><rect x="0" y="1779.5" width="2342" height="117.5"/></clipPath><clipPath id="cy"><rect x="42" y="0" width="116.2" height="1913"/></clipPath></defs>
<g clip-path="url(#cx)"><text class="lab" x="806.8" y="1870.9" letter-spacing="-0.25">Binding</text><text class="lab" x="1264.1" y="1870.9" letter-spacing="-0.4">energy</text><text class="lab" x="1689.4" y="1870.9" letter-spacing="0.65">(eV)</text></g>
<g clip-path="url(#cy)"><text class="lab" transform="translate(132.8 1213.6) rotate(-90)" letter-spacing="-0.54">Intensity</text><text class="lab" transform="translate(132.8 704.7) rotate(-90)" letter-spacing="0.44">(a.u.)</text></g>
<path d="M1124.4 128.4 V55.9 H1587.6 V128.4" fill="none" stroke="#000" stroke-width="8.4" stroke-linejoin="bevel"/>
<g transform="translate(1306.2 181.8)"><text class="tl" style="font-family:'Liberation Serif',serif;font-size:104px">Δ</text></g>
<g transform="translate(1368.9 181.8) scale(1 1.035)"><text class="tl" text-anchor="start">E</text></g>
<g transform="translate(1184.0 302.0) scale(1 1.035)"><text class="tl" text-anchor="start">2p<tspan font-size="66" dx="1.5" dy="25.6">1/2</tspan></text></g>
<g transform="translate(1668.0 199.0) scale(1 1.035)"><text class="tl" text-anchor="start">2p<tspan font-size="66" dx="1.5" dy="25.4">3/2</tspan></text></g>
<rect x="1763.5" y="777.6" width="461.1" height="153.8" fill="#fff" stroke="#000" stroke-width="3"/>
<path d="M1776.9 844.4 H1994.6" stroke="#000" stroke-width="7.4" stroke-linecap="round"/>
<g transform="translate(2023.1 878.8) scale(1 1.035)"><text class="tl" text-anchor="start">Fe<tspan font-size="66" dx="0.5" dy="25.3">2p</tspan></text></g>
<ellipse cx="1066.6" cy="1048.8" rx="34.4" ry="67" fill="none" stroke="#000" stroke-width="8"/>
<path d="M1058 1034.8 L1087.2 414" stroke="#000" stroke-width="8" fill="none"/>
<path d="M1088.4 376.8 L1095.2 411.8 L1077.8 411.2 Z" fill="#000" stroke="#000" stroke-width="7.4" stroke-linejoin="round"/>
<path d="M1080.5 1032.6 L1546 600.5" stroke="#000" stroke-width="8" fill="none"/>
<path d="M1572.3 576.6 L1551.8 607.4 L1539.7 594.1 Z" fill="#000" stroke="#000" stroke-width="7.4" stroke-linejoin="round"/>
</svg>
</body></html>
